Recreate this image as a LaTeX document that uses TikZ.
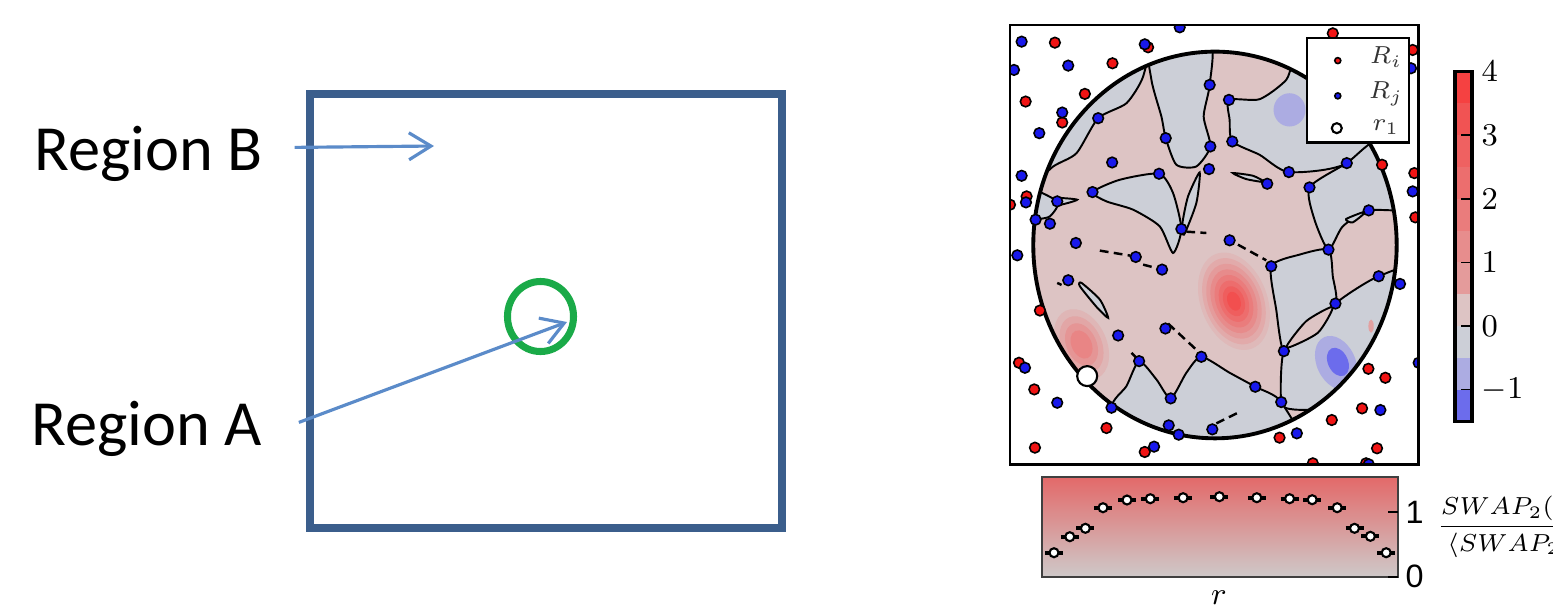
\documentclass[tikz,border=0pt]{standalone}
\usepackage{fontspec}
\newfontfamily\calibri{Carlito}
\newfontfamily\helv{Liberation Sans}
\usetikzlibrary{arrows.meta, shapes.geometric, positioning}

\definecolor{frameblue}{RGB}{59,94,140}
\definecolor{ringgreen}{RGB}{26,170,72}
\definecolor{arrowblue}{RGB}{91,139,201}
\definecolor{cpink}{RGB}{221,196,196}
\definecolor{cgray}{RGB}{204,207,215}
\definecolor{cred}{RGB}{246,58,58}
\definecolor{clblue}{RGB}{172,172,226}
\definecolor{cblue}{RGB}{108,108,236}
\definecolor{dotred}{RGB}{240,20,20}
\definecolor{dotblue}{RGB}{25,25,235}
\definecolor{toprd}{RGB}{227,105,105}
\definecolor{botgy}{RGB}{206,201,201}

\begin{document}
\begin{tikzpicture}[
    x=0.01cm, y=-0.01cm,
    frame/.style={draw=frameblue, line width=2.1pt},
    ring/.style={ellipse, draw=ringgreen, line width=2pt, minimum width=0.66cm, minimum height=0.70cm, inner sep=0pt},
    regionlabel/.style={anchor=base west, inner sep=0pt, font=\calibri\fontsize{18.3}{22}\selectfont},
    arrow/.style={-{Straight Barb[length=0.22cm, width=0.27cm]}, draw=arrowblue, line width=0.9pt},
    graycell/.style={fill=cgray, draw=black, line width=0.55pt},
    pinkcell/.style={fill=cpink, draw=black, line width=0.55pt},
    wall/.style={black, line width=0.7pt, dash pattern=on 2.5pt off 1.5pt},
    bdot/.style={fill=dotblue, draw=black, line width=0.45pt},
    rdot/.style={fill=dotred, draw=black, line width=0.45pt},
    legendtext/.style={font=\fontsize{7.5}{8}\selectfont, text=black!80},
    ticklabel/.style={anchor=west, inner sep=0pt, font=\fontsize{9}{10}\selectfont}
]
\useasboundingbox (0,0) rectangle (1553,605);

% left panel: the two regions
\draw[frame] (310,94) rectangle (782,528);
\node[ring] (ring) at (540.5,316.5) {};
\node[regionlabel] (regB) at (34,170) {Region B};
\node[regionlabel] (regA) at (31,445) {Region A};
\coordinate (bTip) at (434,146);
\coordinate (aTip) at (567,322);
\draw[arrow] ([xshift=0.31cm, yshift=0.06cm]regB.east) -- (bTip);
\draw[arrow] ([xshift=0.36cm, yshift=0.06cm]regA.east) -- (aTip);

% right panel: sample configuration
\begin{scope}[shift={(1000,20)}, x=0.0033333cm, y=-0.0033333cm]
  \begin{scope}
    \clip (30,15) rectangle (1257,1335);
    \begin{scope}
      \clip (646,676) ellipse [x radius=546, y radius=581];
      \fill[cpink] (0,0) rectangle (1300,1400);
      % red bumps
      \foreach \k in {0,...,7} {
        \pgfmathtruncatemacro\pct{8+11*\k}
        \begin{scope}[shift={(703,845)}, rotate=21]
          \fill[cred!\pct!cpink] (0,0) ellipse [x radius={100*(1-0.115*\k)}, y radius={152*(1-0.115*\k)}];
        \end{scope}
      }
      \foreach \k in {0,...,3} {
        \pgfmathtruncatemacro\pct{10+12*\k}
        \begin{scope}[shift={(245,975)}, rotate=25]
          \fill[cred!\pct!cpink] (0,0) ellipse [x radius={75*(1-0.2*\k)}, y radius={112*(1-0.2*\k)}];
        \end{scope}
      }
      % negative cells
      \path[graycell] plot[smooth cycle, tension=0.4] coordinates {(60,520) (90,300) (250,130) (440,60) (430,170) (380,250) (295,295) (230,400) (160,440)};
      \path[graycell] plot[smooth cycle, tension=0.4] coordinates {(452,60) (630,60) (630,195) (612,290) (632,380) (590,440) (530,435) (498,355) (485,290) (455,180)};
      \path[graycell] plot[smooth cycle, tension=0.4] coordinates {(688,240) (780,238) (860,180) (920,80) (1200,250) (1042,430) (868,457) (780,405) (698,365) (690,300)};
      \path[graycell] plot[smooth cycle, tension=0.4] coordinates {(930,503) (1042,430) (1150,360) (1260,560) (1108,572) (1030,620) (987,690) (945,600)};
      \path[graycell] plot[smooth cycle, tension=0.4] coordinates {(815,740) (900,705) (987,690) (1000,770) (1008,852) (920,915) (853,995) (830,870)};
      \path[graycell] plot[smooth cycle, tension=0.4] coordinates {(1008,852) (1138,770) (1260,760) (1260,1150) (1000,1170) (880,1170) (845,1148) (853,995) (935,950)};
      \path[graycell] plot[smooth cycle, tension=0.4] coordinates {(418,1025) (470,1080) (513,1137) (560,1060) (605,1012) (690,1060) (767,1102) (845,1148) (900,1320) (380,1320) (335,1165) (380,1100)};
      \path[graycell] plot[smooth cycle, tension=0.4] coordinates {(278,517) (360,480) (478,462) (520,520) (545,628) (520,700) (480,620) (400,570) (320,545)};
      \path[graycell] plot[smooth cycle, tension=0.4] coordinates {(548,612) (565,530) (600,458) (590,550) (553,645)};
      \path[graycell] plot[smooth cycle, tension=0.4] coordinates {(60,500) (172,545) (150,590) (107,600) (40,620)};
      \path[graycell] plot[smooth cycle, tension=0.4] coordinates {(245,790) (300,840) (325,895) (290,862) (240,800)};
      \path[graycell] plot[smooth cycle, tension=0.4] coordinates {(700,460) (760,468) (795,487) (740,478)};
      \path[graycell] plot[smooth cycle, tension=0.4] coordinates {(165,535) (232,540) (175,556)};
      \path[graycell] plot[smooth cycle, tension=0.4] coordinates {(1040,598) (1100,575) (1060,608)};
      \path[pinkcell] plot[smooth cycle, tension=0.4] coordinates {(860,985) (920,905) (1000,862) (955,940)};
      % blue bumps
      \begin{scope}[shift={(1010,1030)}, rotate=25]
        \fill[clblue] (0,0) ellipse [x radius=58, y radius=85];
        \fill[cblue] (6,0) ellipse [x radius=30, y radius=45];
      \end{scope}
      \fill[clblue] (870,270) ellipse [x radius=48, y radius=50];
      \fill[cred!25!cpink] (1115,920) ellipse [x radius=8, y radius=20];
      % broken walls
      \foreach \ax/\ay/\bx/\by in {300/693/392/708, 430/735/480/748, 560/636/620/640, 715/675/800/722,
          505/912/600/1000, 650/1212/715/1180, 172/790/185/796, 395/1000/415/1020}
        \draw[wall] (\ax,\ay) -- (\bx,\by);
    \end{scope}
    \draw[line width=1.1pt] (646,676) ellipse [x radius=546, y radius=581];
    % particles
    \foreach \px/\py in {165/68, 338/130, 1000/40, 1240/90, 77/245, 255/222, 187/308, 80/530, 30/555,
        1148/435, 1245/460, 1248/593, 120/873, 1107/1048, 1158/1075, 1088/1167, 997/1202, 103/1110,
        320/1226, 840/1255, 105/1285, 435/1298, 1133/1287, 57/1030, 940/1332, 445/82, 1100/1332}
      \draw[rdot] (\px,\py) circle (0.053cm);
    \foreach \px/\py in {630/195, 688/240, 498/355, 632/380, 698/365, 295/295, 337/428, 478/462,
        628/448, 868/457, 1042/430, 930/503, 803/492, 278/517, 172/545, 1108/572, 107/600, 150/612,
        545/628, 228/670, 690/662, 408/712, 487/750, 987/690, 815/740, 1138/770, 205/782, 1008/852,
        355/948, 497/927, 853/995, 605/1012, 418/1025, 767/1102, 513/1137, 845/1148, 335/1165,
        507/1218, 537/1246, 638/1230, 65/65, 540/22, 435/73, 205/137, 42/150, 187/278, 118/340,
        65/468, 78/548, 52/707, 1235/145, 1240/515, 1202/793, 172/1150, 1143/1172, 892/1242,
        463/1282, 1108/1335, 1258/1030, 75/1045}
      \draw[bdot] (\px,\py) circle (0.053cm);
    \draw[fill=white, line width=0.6pt] (262,1070) circle (0.1cm);
    % legend
    \draw[fill=white, line width=0.6pt] (922,55) rectangle (1228,368);
    \draw[rdot] (1015,122) circle (0.03cm);
    \draw[bdot] (1015,228) circle (0.03cm);
    \draw[fill=white, line width=0.6pt] (1012,325) circle (0.05cm);
    \node[legendtext] (legRi) at (1160,112) {$R_i$};
    \node[legendtext] (legRj) at (1160,222) {$R_j$};
    \node[legendtext] (legr) at (1160,322) {$r_1$};
  \end{scope}
  \draw[line width=0.75pt] (30,15) rectangle (1257,1335);
\end{scope}

% colour bar
\foreach \lo/\col in {-1.5/cblue, -1/clblue, -0.5/cgray, 0/cpink, 0.5/cred!30!cpink, 1/cred!40!cpink,
    1.5/cred!52!cpink, 2/cred!62!cpink, 2.5/cred!72!cpink, 3/cred!82!cpink, 3.5/cred!95!cpink}
  \fill[\col] (1455,{326-\lo*63.6}) rectangle (1472,{326-(\lo+0.5)*63.6});
\draw[line width=0.9pt] (1455,71.4) rectangle (1472,421.4);
\foreach \v in {-1,0,1,2,3,4} {
  \draw[line width=0.5pt] (1461,{326-\v*63.6}) -- (1472,{326-\v*63.6});
  \node[ticklabel] at (1481,{326-\v*63.6}) {$\v$};
}

% ratio profile
\shade[top color=toprd, bottom color=botgy] (1042,477) rectangle (1398,577);
\draw[black!75, line width=0.7pt] (1042,477) rectangle (1398,577);
\draw[line width=0.6pt] (1388,512) -- (1398,512);
\draw[line width=0.6pt] (1388,577) -- (1398,577);
\foreach \px/\py in {1054/552.7, 1069.8/536.7, 1085.4/528.3, 1103/507.7, 1127/500, 1150.3/498.7,
    1183.1/497.7, 1219.4/496.7, 1256.8/497.7, 1289.6/498.7, 1312.2/499.7, 1337.2/507.7,
    1354.5/528.3, 1370.4/536.3, 1386.2/552.7} {
  \draw[line width=1.1pt] (\px-9,\py) -- (\px+9,\py);
  \draw[fill=white, line width=0.6pt] (\px,\py) circle (0.045cm);
}
\node[anchor=west, inner sep=0pt, font=\helv\fontsize{9.2}{10}\selectfont] (one) at (1405,512) {1};
\node[anchor=west, inner sep=0pt, font=\helv\fontsize{9.2}{10}\selectfont] (zero) at (1405,576) {0};
\node[anchor=west, inner sep=0pt, font=\fontsize{7.1}{8.5}\selectfont] (ratio) at (1436,527)
  {$\displaystyle\frac{SWAP_2(r)}{\langle SWAP_2\rangle}$};
\node[anchor=base, inner sep=0pt, font=\fontsize{9.5}{10}\selectfont] (rlab) at (1219,604) {$r$};
\end{tikzpicture}
\end{document}
